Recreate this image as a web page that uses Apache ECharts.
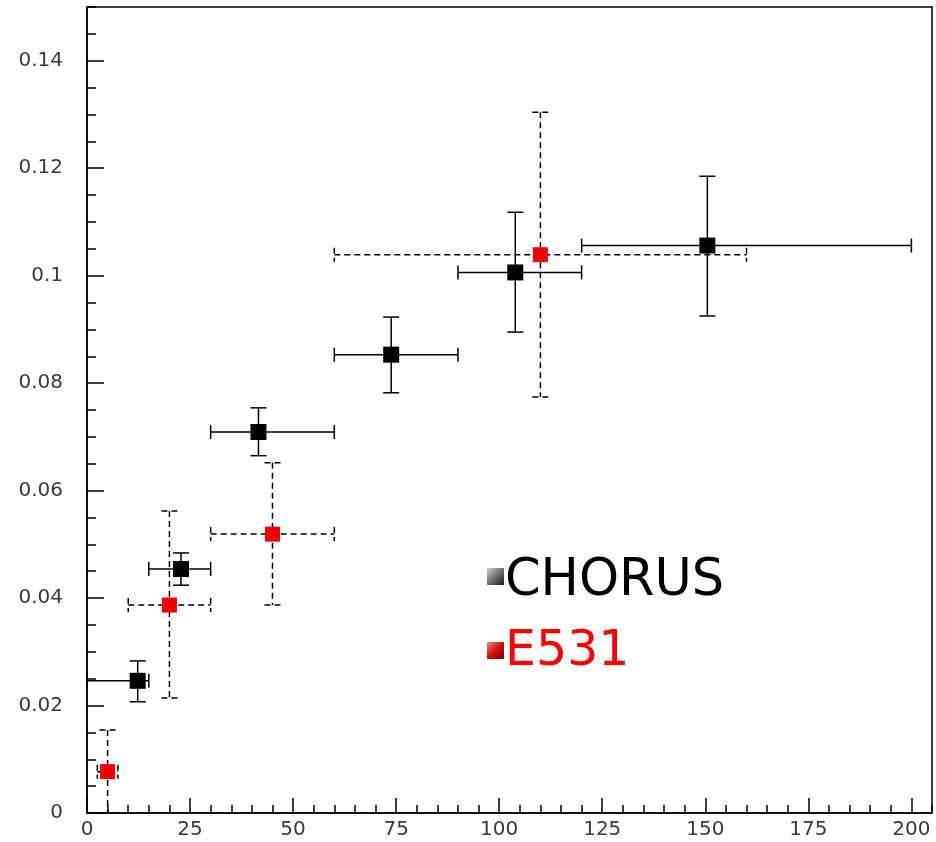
<!DOCTYPE html>
<html>
<head>
<meta charset="utf-8">
<script src="https://cdn.jsdelivr.net/npm/echarts@6/dist/echarts.min.js"></script>
<style>
  html, body { margin: 0; padding: 0; background: #fff; }
  #chart { width: 936px; height: 842px; }
</style>
</head>
<body>
<div id="chart"></div>
<script>
// CHORUS measurements: centre, horizontal bin edges, vertical error limits
const chorusX    = [12.3, 22.8, 41.6, 73.8, 103.9, 150.5];
const chorusY    = [0.0246, 0.0454, 0.0709, 0.0853, 0.1006, 0.1056];
const chorusXLo  = [0, 15, 30, 60, 90, 120];
const chorusXHi  = [15, 30, 60, 90, 120, 200];
const chorusYLo  = [0.0207, 0.0424, 0.0665, 0.0782, 0.0895, 0.0925];
const chorusYHi  = [0.0283, 0.0484, 0.0754, 0.0923, 0.1118, 0.1185];

// E531 measurements
const e531X   = [5, 20, 45, 110];
const e531Y   = [0.0077, 0.0387, 0.0519, 0.1039];
const e531XLo = [2.5, 10, 30, 60];
const e531XHi = [7.5, 30, 60, 160];
const e531YLo = [0, 0.0214, 0.0387, 0.0774];
const e531YHi = [0.01545, 0.0562, 0.0652, 0.1304];

const seriesNames = ['CHORUS', 'E531'];

function rows(x, y, xlo, xhi, ylo, yhi) {
  return x.map((v, i) => [v, y[i], xlo[i], xhi[i], ylo[i], yhi[i]]);
}

// Draws a cross of error bars with end caps
function errorBars(dash) {
  return function (params, api) {
    const c = api.coord([api.value(0), api.value(1)]);
    const l = api.coord([api.value(2), api.value(1)]);
    const r = api.coord([api.value(3), api.value(1)]);
    const b = api.coord([api.value(0), api.value(4)]);
    const t = api.coord([api.value(0), api.value(5)]);
    const style = { stroke: '#000', lineWidth: 1.5, lineDash: dash };
    const capH = 7, capW = 8;
    const line = (x1, y1, x2, y2) => ({ type: 'line', shape: { x1, y1, x2, y2 }, style });
    return {
      type: 'group',
      children: [
        line(l[0], c[1], r[0], c[1]),
        line(c[0], t[1], c[0], b[1]),
        line(l[0], c[1] - capH, l[0], c[1] + capH),
        line(r[0], c[1] - capH, r[0], c[1] + capH),
        line(c[0] - capW, t[1], c[0] + capW, t[1]),
        line(c[0] - capW, b[1], c[0] + capW, b[1])
      ]
    };
  };
}

const labelFont = { fontFamily: 'DejaVu Sans', fontSize: 20, color: '#3a3a3a' };

const chart = echarts.init(document.getElementById('chart'), null, { renderer: 'canvas' });

chart.setOption({
  animation: false,
  backgroundColor: '#fff',
  grid: {
    left: 87, right: 4, top: 7, bottom: 29,
    show: true, borderColor: '#000', borderWidth: 1.5, backgroundColor: 'transparent'
  },
  xAxis: [
    {
      type: 'value', min: 0, max: 205, interval: 25, position: 'bottom',
      axisLine: { show: true, lineStyle: { color: '#000', width: 1.5 } },
      axisTick: { show: true, inside: true, length: 15, lineStyle: { color: '#000', width: 1.5 } },
      axisLabel: Object.assign({ margin: 7, showMaxLabel: false }, labelFont),
      splitLine: { show: false }
    },
    {
      type: 'value', min: 0, max: 205, interval: 5, position: 'bottom',
      axisLine: { show: false },
      axisTick: { show: true, inside: true, length: 8, lineStyle: { color: '#000', width: 1.5 } },
      axisLabel: { show: false },
      splitLine: { show: false }
    }
  ],
  yAxis: [
    {
      type: 'value', min: 0, max: 0.15, interval: 0.02, position: 'left',
      axisLine: { show: true, lineStyle: { color: '#000', width: 1.5 } },
      axisTick: { show: true, inside: true, length: 17, lineStyle: { color: '#000', width: 1.5 } },
      axisLabel: Object.assign({ margin: 24, showMaxLabel: false }, labelFont),
      splitLine: { show: false }
    },
    {
      type: 'value', min: 0, max: 0.15, interval: 0.005, position: 'left',
      axisLine: { show: false },
      axisTick: { show: true, inside: true, length: 9, lineStyle: { color: '#000', width: 1.5 } },
      axisLabel: { show: false },
      splitLine: { show: false }
    }
  ],
  series: [
    {
      name: seriesNames[0] + ' errors', type: 'custom',
      xAxisIndex: 0, yAxisIndex: 0,
      renderItem: errorBars(null),
      encode: { x: [0, 2, 3], y: [1, 4, 5] },
      data: rows(chorusX, chorusY, chorusXLo, chorusXHi, chorusYLo, chorusYHi),
      z: 2
    },
    {
      name: seriesNames[1] + ' errors', type: 'custom',
      xAxisIndex: 0, yAxisIndex: 0,
      renderItem: errorBars([6, 4]),
      encode: { x: [0, 2, 3], y: [1, 4, 5] },
      data: rows(e531X, e531Y, e531XLo, e531XHi, e531YLo, e531YHi),
      z: 2
    },
    {
      name: seriesNames[0], type: 'scatter', symbol: 'rect', symbolSize: 16,
      itemStyle: { color: '#000', opacity: 1 },
      data: chorusX.map((v, i) => [v, chorusY[i]]),
      z: 3
    },
    {
      name: seriesNames[1], type: 'scatter', symbol: 'rect', symbolSize: 15,
      itemStyle: { color: '#ee0000', opacity: 1 },
      data: e531X.map((v, i) => [v, e531Y[i]]),
      z: 3
    }
  ],
  graphic: [
    {
      type: 'rect', left: 487, top: 568, shape: { width: 17, height: 17 },
      style: {
        fill: new echarts.graphic.LinearGradient(0, 0, 1, 1, [
          { offset: 0, color: '#d0d0d0' }, { offset: 0.5, color: '#707070' }, { offset: 1, color: '#1a1a1a' }
        ])
      }
    },
    {
      type: 'text', left: 505, top: 556,
      style: { text: seriesNames[0], fill: '#000', font: '51px "DejaVu Sans"' }
    },
    {
      type: 'rect', left: 487, top: 642, shape: { width: 17, height: 17 },
      style: {
        fill: new echarts.graphic.LinearGradient(0, 0, 1, 1, [
          { offset: 0, color: '#ff8080' }, { offset: 0.5, color: '#d01010' }, { offset: 1, color: '#700000' }
        ])
      }
    },
    {
      type: 'text', left: 505, top: 628,
      style: { text: seriesNames[1], fill: '#ff0000', font: '49px "DejaVu Sans"' }
    }
  ]
});
</script>
</body>
</html>
